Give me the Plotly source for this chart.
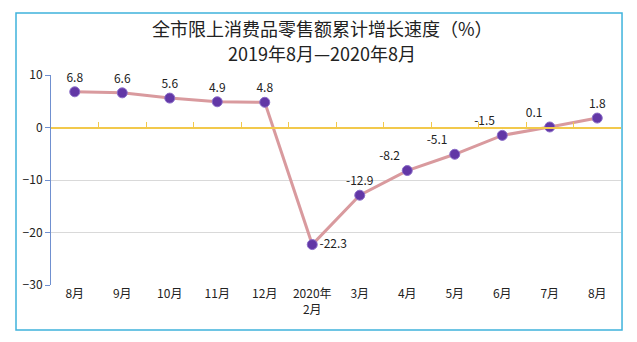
import plotly.graph_objects as go

categories = ["8月", "9月", "10月", "11月", "12月", "2020年<br>2月", "3月", "4月", "5月", "6月", "7月", "8月"]
values = [6.8, 6.6, 5.6, 4.9, 4.8, -22.3, -12.9, -8.2, -5.1, -1.5, 0.1, 1.8]
label_pos = ["top center", "top center", "top center", "top center", "top center", "middle right",
             "top center", "top left", "top left", "top left", "top left", "top center"]
y_ticks = [10, 0, -10, -20, -30]
title_lines = ["全市限上消费品零售额累计增长速度（%）", "2019年8月—2020年8月"]

xs = list(range(len(categories)))
font_main = "Noto Sans CJK SC, Noto Sans, sans-serif"

fig = go.Figure()
fig.add_trace(go.Scatter(
    x=xs, y=values, mode="lines+markers+text",
    line=dict(color="#d99a9e", width=3),
    marker=dict(color="#6237a6", size=10, line=dict(color="#8a6cc8", width=1)),
    text=[f"{v:.1f}" for v in values], textposition=label_pos,
    textfont=dict(size=12, color="#222222", family=font_main),
    cliponaxis=False, showlegend=False,
))
# invisible trace for zero-line axis
fig.add_trace(go.Scatter(x=[-0.5, len(xs) - 0.5], y=[0, 0], xaxis="x2", mode="lines",
                         line=dict(width=0), hoverinfo="skip", showlegend=False))

fig.update_layout(
    width=637, height=342,
    margin=dict(l=51, r=16, t=75, b=57),
    paper_bgcolor="white", plot_bgcolor="white",
    font=dict(family=font_main, color="#222222"),
    xaxis=dict(range=[-0.5, len(xs) - 0.5], tickvals=xs, ticktext=categories,
               showgrid=False, zeroline=False, showline=False, ticks="",
               tickfont=dict(size=12, color="#222222")),
    xaxis2=dict(range=[-0.5, len(xs) - 0.5], overlaying="x", anchor="free", position=0.75,
                side="bottom", showline=True, linecolor="#f2c94c", linewidth=2,
                ticks="inside", ticklen=5, tickcolor="#f2c94c", tickwidth=1,
                tickvals=[i + 0.5 for i in xs[:-1]], showticklabels=False, showgrid=False,
                zeroline=False),
    yaxis=dict(range=[-30, 10], tickvals=y_ticks, showgrid=True, gridcolor="#d9d9d9",
               gridwidth=1, zeroline=False, showline=True, linecolor="#7090d0", linewidth=1,
               ticks="outside", ticklen=5, tickcolor="#7090d0",
               tickfont=dict(size=12, color="#222222")),
)
for line, yp in zip(title_lines, [1.226, 1.107]):
    fig.add_annotation(text=line, xref="paper", yref="paper", x=0.476, y=yp,
                       xanchor="center", yanchor="middle", showarrow=False,
                       font=dict(size=18, color="#222222", family=font_main))
fig.add_shape(type="rect", xref="paper", yref="paper", x0=-0.0614, x1=1.0018, y0=-0.214, y1=1.295,
              line=dict(color="#3fb3dc", width=1.5), fillcolor="rgba(0,0,0,0)", layer="below")

fig.write_html("out.html")
